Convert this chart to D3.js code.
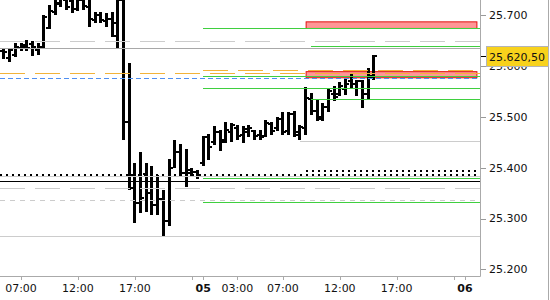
<!DOCTYPE html>
<html>
<head>
<meta charset="utf-8">
<script src="https://cdn.jsdelivr.net/npm/d3@7"></script>
<style>
body { margin: 0; background: #fff; }
text { font-family: "DejaVu Sans", Verdana, sans-serif; font-size: 11px; fill: #111; }
</style>
</head>
<body>
<script>

// 30 minute bars, day 04 then day 05
var barTime = [
    "04 05:30","04 06:00","04 06:30","04 07:00","04 07:30","04 08:00","04 08:30","04 09:00","04 09:30","04 10:00",
    "04 10:30","04 11:00","04 11:30","04 12:00","04 12:30","04 13:00","04 13:30","04 14:00","04 14:30","04 15:00",
    "04 15:30","04 16:00","04 16:30","04 17:00","04 17:30","04 18:00","04 18:30","04 19:00","04 19:30","04 20:00",
    "04 20:30","04 21:00","04 21:30","04 22:00","04 22:30",
    "05 00:00","05 00:30","05 01:00","05 01:30","05 02:00","05 02:30","05 03:00","05 03:30","05 04:00","05 04:30",
    "05 05:00","05 05:30","05 06:00","05 06:30","05 07:00","05 07:30","05 08:00","05 08:30","05 09:00","05 09:30",
    "05 10:00","05 10:30","05 11:00","05 11:30","05 12:00","05 12:30","05 13:00","05 13:30","05 14:00","05 14:30",
    "05 15:00"
];
var barOpen = [
    25630,25616,25622,25636,25642,25644,25632,25638,25675,25706,25722,25730,25728,25712,25730,25716,25690,25700,25688,25693,
    25660,25730,25490,25385,25330,25387,25350,25327,25338,25296,25400,25430,25390,25390,25392,
    25410,25460,25450,25470,25455,25470,25478,25465,25470,25472,25464,25462,25486,25478,25495,25472,25505,25465,25478,25535,
    25512,25500,25520,25545,25545,25555,25570,25565,25570,25545,25578
];
var barHigh = [
    25634,25634,25645,25645,25651,25649,25645,25701,25720,25738,25740,25742,25738,25740,25738,25735,25706,25706,25705,25706,
    25745,25760,25606,25410,25431,25410,25404,25386,25356,25417,25455,25447,25437,25399,25395,
    25463,25467,25482,25474,25490,25488,25484,25482,25484,25474,25474,25494,25490,25500,25510,25510,25512,25484,25559,25547,
    25533,25527,25557,25561,25569,25577,25586,25573,25573,25596,25622
];
var barLow = [
    25614,25608,25618,25630,25630,25620,25622,25634,25673,25701,25716,25710,25704,25708,25710,25677,25685,25685,25677,25657,
    25636,25455,25356,25292,25311,25312,25307,25307,25266,25285,25400,25382,25362,25382,25378,
    25404,25415,25445,25433,25449,25451,25455,25449,25461,25455,25455,25461,25465,25472,25465,25465,25461,25455,25465,25504,
    25492,25492,25510,25531,25541,25543,25555,25541,25518,25533,25573
];
var barClose = [
    25628,25632,25638,25638,25636,25638,25638,25697,25708,25725,25732,25716,25712,25730,25718,25693,25700,25690,25693,25685,
    25730,25490,25360,25330,25340,25350,25327,25338,25296,25400,25430,25390,25395,25392,25385,
    25460,25440,25470,25450,25474,25484,25462,25476,25478,25462,25460,25488,25472,25496,25470,25505,25470,25480,25537,25512,
    25496,25520,25551,25540,25560,25565,25565,25570,25545,25580,25620.5
];

// horizontal levels
var levelPrice = [25649, 25635, 25592, 25586, 25576, 25674, 25639, 25580, 25556, 25536,
                  25379, 25332, 25453, 25394, 25386, 25383, 25373, 25361, 25336, 25266];
var levelStart = ["04 05:00","04 05:00","05 00:00","04 05:00","04 05:00","05 00:00","05 09:30","05 00:00","05 00:00","05 09:30",
                  "05 00:00","05 00:00","05 08:30","05 09:00","04 05:00","04 05:00","04 05:00","04 05:00","04 05:00","04 05:00"];
var levelKind  = ["grayLong","grayDark","orange","orange","blue","green","green","green","green","green",
                  "green","green","gray","dots","dots","gray","black","grayLong","grayShort","gray"];

// red zones
var zoneLow   = [25675, 25578];
var zoneHigh  = [25688, 25590];
var zoneStart = ["05 09:00", "05 09:00"];
var zoneEnd   = ["06 01:00", "06 01:00"];

var timeTicks  = ["04 07:00","04 12:00","04 17:00","04 22:00","05 00:00","05 03:00","05 07:00","05 12:00","05 17:00","05 22:00","06 00:00"];
var timeLabels = ["07:00","12:00","17:00","","05","03:00","07:00","12:00","17:00","","06"];
var priceTicks = [25200, 25300, 25400, 25500, 25600, 25700];
var lastPrice = 25620.5;

var width = 550, height = 300;
var plotW = 480, plotH = 276;

// session hours: the closed hour between days is skipped
var dayOffset = {"04": 0, "05": 23, "06": 46};
function sessionHour(s) {
    var p = s.split(" ");
    var hm = p[1].split(":");
    return dayOffset[p[0]] + (+hm[0]) + (+hm[1]) / 60;
}

var de = d3.formatLocale({decimal: ",", thousands: ".", grouping: [3], currency: ["", "€"]});

var x = d3.scaleLinear().domain([5.155, 47.316]).range([0, plotW]);
var y = d3.scaleLinear().domain([25187, 25730]).range([plotH, 0]);

var svg = d3.select("body").append("svg")
    .attr("width", width)
    .attr("height", height);

svg.append("rect").attr("width", width).attr("height", height).attr("fill", "#fff");

svg.append("clipPath").attr("id", "plotClip")
    .append("rect").attr("width", plotW).attr("height", plotH);

var plot = svg.append("g").attr("clip-path", "url(#plotClip)");

// zones
var zones = d3.range(zoneLow.length);
plot.selectAll("rect.zone").data(zones).enter().append("rect")
    .attr("class", "zone")
    .attr("x", function(i){ return x(sessionHour(zoneStart[i])) + 0.5; })
    .attr("y", function(i){ return y(zoneHigh[i]) + 0.5; })
    .attr("width", function(i){ return x(sessionHour(zoneEnd[i])) - x(sessionHour(zoneStart[i])); })
    .attr("height", function(i){ return y(zoneLow[i]) - y(zoneHigh[i]); })
    .attr("fill", "#ff9696")
    .attr("stroke", "#e01010")
    .attr("stroke-width", 1);

// bars
var bars = plot.append("g").attr("shape-rendering", "crispEdges");
var idx = d3.range(barTime.length);
bars.selectAll("rect.hl").data(idx).enter().append("rect")
    .attr("x", function(i){ return Math.round(x(sessionHour(barTime[i])) - 1.5); })
    .attr("y", function(i){ return y(barHigh[i]); })
    .attr("width", 3)
    .attr("height", function(i){ return Math.max(1, y(barLow[i]) - y(barHigh[i])); })
    .attr("fill", "#000");
bars.selectAll("rect.op").data(idx).enter().append("rect")
    .attr("x", function(i){ return Math.round(x(sessionHour(barTime[i])) - 1.5) - 2; })
    .attr("y", function(i){ return y(barOpen[i]) - 1; })
    .attr("width", 2).attr("height", 2)
    .attr("fill", "#000");
bars.selectAll("rect.cl").data(idx).enter().append("rect")
    .attr("x", function(i){ return Math.round(x(sessionHour(barTime[i])) - 1.5) + 3; })
    .attr("y", function(i){ return y(barClose[i]) - 1; })
    .attr("width", 2).attr("height", 2)
    .attr("fill", "#000");

// levels
var kindStyle = {
    grayLong:  {stroke: "#cccccc", width: 1, dash: "25,10"},
    grayShort: {stroke: "#cccccc", width: 1, dash: "5,5"},
    gray:      {stroke: "#cccccc", width: 1, dash: null},
    grayDark:  {stroke: "#a8a8a8", width: 1, dash: null},
    orange:    {stroke: "#f2b33a", width: 1, dash: "25,10"},
    blue:      {stroke: "#4f8ff2", width: 1, dash: "5,3"},
    green:     {stroke: "#3fcf3f", width: 1, dash: null},
    dots:      {stroke: "#000000", width: 2, dash: "2,4"},
    black:     {stroke: "#000000", width: 1, dash: null}
};
var levels = d3.range(levelPrice.length);
plot.selectAll("line.level").data(levels).enter().append("line")
    .attr("class", "level")
    .attr("x1", function(i){ return Math.max(0, x(sessionHour(levelStart[i]))); })
    .attr("x2", plotW)
    .attr("y1", function(i){ var s = kindStyle[levelKind[i]]; return Math.round(y(levelPrice[i])) + (s.width == 1 ? 0.5 : 0); })
    .attr("y2", function(i){ var s = kindStyle[levelKind[i]]; return Math.round(y(levelPrice[i])) + (s.width == 1 ? 0.5 : 0); })
    .attr("stroke", function(i){ return kindStyle[levelKind[i]].stroke; })
    .attr("stroke-width", function(i){ return kindStyle[levelKind[i]].width; })
    .attr("stroke-dasharray", function(i){ return kindStyle[levelKind[i]].dash; })
    .attr("shape-rendering", "crispEdges");

// axes frame
svg.append("line").attr("x1", plotW + 0.5).attr("x2", plotW + 0.5).attr("y1", 0).attr("y2", plotH + 0.5)
    .attr("stroke", "#aaa");
svg.append("line").attr("x1", 0).attr("x2", plotW + 0.5).attr("y1", plotH + 0.5).attr("y2", plotH + 0.5)
    .attr("stroke", "#aaa");
svg.append("line").attr("x1", 548.5).attr("x2", 548.5).attr("y1", 0).attr("y2", height)
    .attr("stroke", "#aaa");

// price axis
var yAxis = svg.append("g");
yAxis.selectAll("line").data(priceTicks).enter().append("line")
    .attr("x1", plotW + 1).attr("x2", plotW + 6)
    .attr("y1", function(d){ return Math.round(y(d)) + 0.5; })
    .attr("y2", function(d){ return Math.round(y(d)) + 0.5; })
    .attr("stroke", "#999");
yAxis.selectAll("text").data(priceTicks).enter().append("text")
    .attr("x", plotW + 9)
    .attr("y", function(d){ return y(d); })
    .attr("dy", "0.35em")
    .text(function(d){ return de.format(",.0f")(d); });

// time axis
var xAxis = svg.append("g");
xAxis.selectAll("line").data(timeTicks).enter().append("line")
    .attr("x1", function(d){ return Math.round(x(sessionHour(d))) + 0.5; })
    .attr("x2", function(d){ return Math.round(x(sessionHour(d))) + 0.5; })
    .attr("y1", plotH + 1).attr("y2", plotH + 4)
    .attr("stroke", "#aaa");
xAxis.selectAll("text").data(timeTicks).enter().append("text")
    .attr("x", function(d){ return x(sessionHour(d)); })
    .attr("y", 292)
    .attr("text-anchor", "middle")
    .attr("font-weight", function(d, i){ return timeLabels[i].length == 2 ? "bold" : null; })
    .text(function(d, i){ return timeLabels[i]; });

// last price label
var yLast = y(lastPrice);
svg.append("line").attr("x1", plotW + 1).attr("x2", plotW + 6)
    .attr("y1", Math.round(yLast) + 0.5).attr("y2", Math.round(yLast) + 0.5)
    .attr("stroke", "#000");
svg.append("rect")
    .attr("x", 486.5).attr("y", Math.round(yLast) - 9.5)
    .attr("width", 62).attr("height", 20)
    .attr("fill", "#f8d21c")
    .attr("stroke", "#b4b4b4");
svg.append("text")
    .attr("x", 489)
    .attr("y", yLast + 1)
    .attr("dy", "0.35em")
    .text(de.format(",.2f")(lastPrice));

</script>
</body>
</html>
